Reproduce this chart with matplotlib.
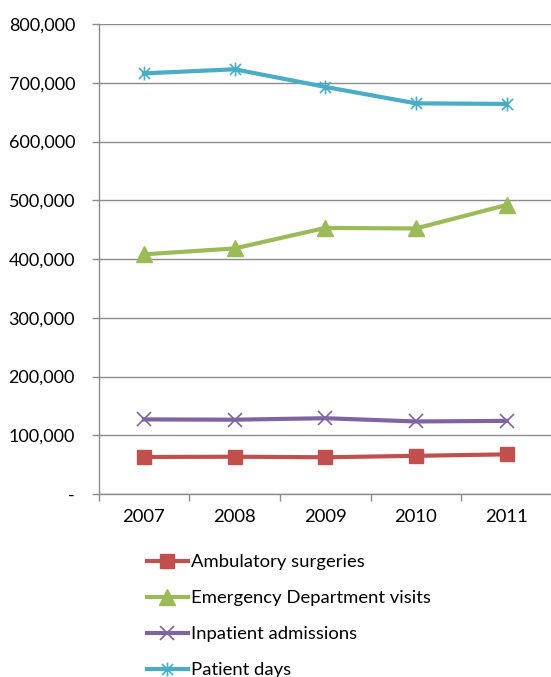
import matplotlib
matplotlib.use("Agg")
import matplotlib.pyplot as plt
from matplotlib.path import Path
from matplotlib.ticker import FuncFormatter, FixedLocator
import numpy as np

years = ["2007", "2008", "2009", "2010", "2011"]
ambulatory = [63000, 63500, 62500, 65000, 67500]
emergency = [408000, 418000, 453000, 452000, 492000]
inpatient = [127000, 126500, 129000, 123500, 124500]
patient_days = [716000, 723000, 693000, 665000, 664000]

plt.rcParams['font.family'] = ['Lato', 'DejaVu Sans']

fig = plt.figure(figsize=(5.51, 6.77), dpi=100)
ax = fig.add_axes([0.179, 0.2703, 0.8227, 0.6942])

star = Path([(-1, -1), (1, 1), (-1, 1), (1, -1), (0, -1.25), (0, 1.25)],
            [Path.MOVETO, Path.LINETO, Path.MOVETO, Path.LINETO, Path.MOVETO, Path.LINETO])

x = np.arange(len(years))
lw = 3.0
ax.plot(x, ambulatory, color='#C0504D', lw=lw, marker='s', ms=10.5,
        mec='#C0504D', mfc='#C0504D', label='Ambulatory surgeries', zorder=3)
ax.plot(x, emergency, color='#9BBB59', lw=lw, marker='^', ms=11,
        mec='#9BBB59', mfc='#9BBB59', label='Emergency Department visits', zorder=3)
ax.plot(x, inpatient, color='#8064A2', lw=lw, marker='x', ms=10,
        mew=1.2, mec='#8064A2', label='Inpatient admissions', zorder=3)
ax.plot(x, patient_days, color='#4BACC6', lw=lw, marker=star, ms=10,
        mew=1.2, mec='#4BACC6', label='Patient days', zorder=3)

ax.set_ylim(0, 800000)
ax.set_yticks(np.arange(0, 800001, 100000))
ax.yaxis.set_major_formatter(FuncFormatter(lambda v, p: '-' if v == 0 else f'{int(v):,}'))
ax.grid(axis='y', color='#8C8C8C', lw=1.0)
ax.set_axisbelow(True)

ax.set_xlim(-0.5, len(years) - 0.5)
ax.xaxis.set_major_locator(FixedLocator(np.arange(-0.5, len(years), 1.0)))
ax.xaxis.set_minor_locator(FixedLocator(x))
ax.set_xticklabels([], minor=False)
ax.set_xticklabels(years, minor=True)
ax.tick_params(axis='x', which='major', length=5, color='#8C8C8C', width=1)
ax.tick_params(axis='x', which='minor', length=0, pad=11, labelsize=13.3)
ax.tick_params(axis='y', length=5, color='#8C8C8C', width=1, labelsize=13, pad=12)

for s in ['top', 'right']:
    ax.spines[s].set_visible(False)
for s in ['left', 'bottom']:
    ax.spines[s].set_color('#8C8C8C')
    ax.spines[s].set_linewidth(1.0)

handles, labels = ax.get_legend_handles_labels()
fig.legend(handles, labels, loc='upper left', bbox_to_anchor=(0.267, 0.181),
           frameon=False, fontsize=13.3, handlelength=2.2, handletextpad=0.15,
           labelspacing=1.08, borderaxespad=0, borderpad=0, numpoints=1)

fig.savefig('out.png', dpi=100)
